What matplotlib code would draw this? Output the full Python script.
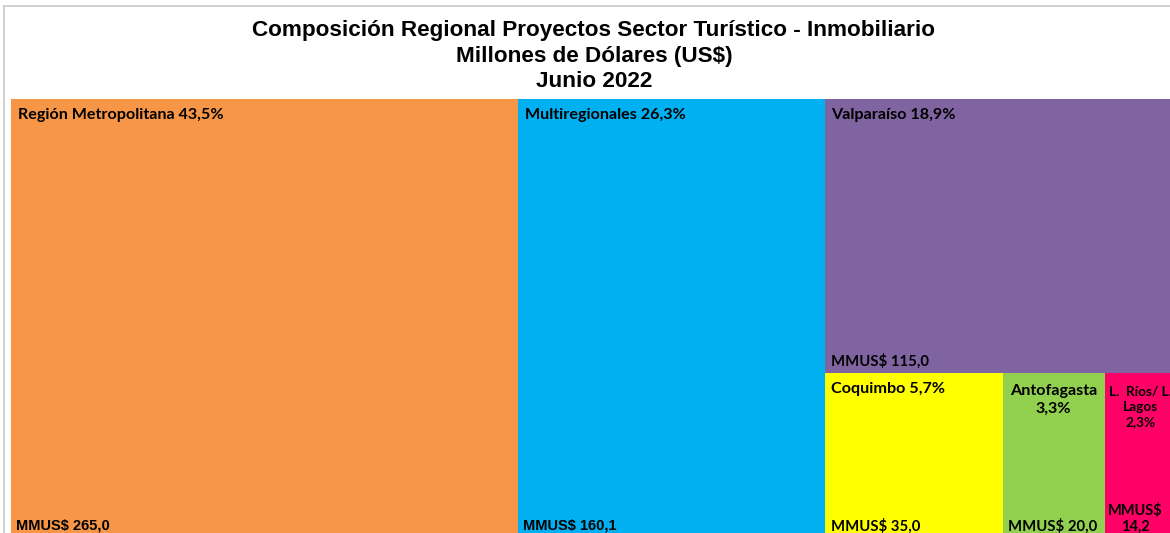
import matplotlib
matplotlib.use("Agg")
import matplotlib.pyplot as plt
from matplotlib.patches import Rectangle
from matplotlib.lines import Line2D

# ---- data ----
regions = ["Región Metropolitana", "Multiregionales", "Valparaíso",
           "Coquimbo", "Antofagasta", "L.  Ríos/ L.\nLagos"]
values = [265.0, 160.1, 115.0, 35.0, 20.0, 14.2]
percent_labels = ["43,5%", "26,3%", "18,9%", "5,7%", "3,3%", "2,3%"]
value_labels = ["265,0", "160,1", "115,0", "35,0", "20,0", "14,2"]
colors = ["#F79646", "#00B0F0", "#8064A2", "#FFFF00", "#92D050", "#FF0066"]

title_lines = ["Composición Regional Proyectos Sector Turístico - Inmobiliario",
               "Millones de Dólares (US$)",
               "Junio 2022"]

W, H = 1170, 533
fig = plt.figure(figsize=(W / 100, H / 100), dpi=100)
fig.patch.set_facecolor("white")

# light gray frame (left and top)
fig.add_artist(Line2D([4 / W, 4 / W], [0, 1 - 6 / H], color="#C8C8C8", lw=1.2,
                      transform=fig.transFigure))
fig.add_artist(Line2D([4 / W, 1], [1 - 6 / H, 1 - 6 / H], color="#C8C8C8", lw=1.2,
                      transform=fig.transFigure))

title_baselines = [36, 62, 87]
for line, yb in zip(title_lines, title_baselines):
    fig.text(594 / W, 1 - yb / H, line, ha="center", va="baseline",
             family="Liberation Sans", fontweight="bold", fontsize=16.2)

# treemap axes (extends slightly past the right and bottom edge, as in the reference)
ax = fig.add_axes([11 / W, -5 / H, 1166 / W, 439 / H])
total = sum(values)
ax.set_xlim(0, total)
ax.set_ylim(0, 1)
ax.axis("off")

# layout: first two items are full-height columns, the rest share the last column
rects = []
x = 0.0
for v in values[:2]:
    rects.append((x, 0.0, v, 1.0))
    x += v
rest = sum(values[2:])
colw = rest
h_top = values[2] / rest
rects.append((x, 1 - h_top, colw, h_top))
bx = x
for v in values[3:]:
    w = colw * v / sum(values[3:])
    rects.append((bx, 0.0, w, 1 - h_top))
    bx += w

font = "Lato"
top_fs = 11.6
for i, (rx, ry, rw, rh) in enumerate(rects):
    ax.add_patch(Rectangle((rx, ry), rw, rh, facecolor=colors[i], edgecolor="none"))
    name = regions[i]
    if i in (0, 1, 2, 3):
        ax.annotate(f"{name} {percent_labels[i]}", xy=(rx, ry + rh),
                    xytext=(5, -6.5), textcoords="offset points",
                    ha="left", va="top", family=font, fontweight="bold",
                    fontsize=top_fs, color="black")
        if i in (0, 1):
            ax.annotate(f"MMUS$ {value_labels[i]}", xy=(rx, ry),
                        xytext=(3.5, 6), textcoords="offset points",
                        ha="left", va="baseline", family="Liberation Sans",
                        fontweight="bold", fontsize=10.5, color="black")
        else:
            ax.annotate(f"MMUS$ {value_labels[i]}", xy=(rx, ry),
                        xytext=(4.5, 5.5), textcoords="offset points",
                        ha="left", va="baseline", family=font, fontweight="bold",
                        fontsize=10.7, color="black")
    elif i == 4:
        ax.annotate(f"{name}\n{percent_labels[i]}", xy=(rx + rw / 2, ry + rh),
                    xytext=(0, -8), textcoords="offset points",
                    ha="center", va="top", family=font, fontweight="bold",
                    fontsize=top_fs, color="black", linespacing=1.3)
        ax.annotate(f"MMUS$ {value_labels[i]}", xy=(rx, ry),
                    xytext=(3.5, 5.5), textcoords="offset points",
                    ha="left", va="baseline", family=font, fontweight="bold",
                    fontsize=10.7, color="black")
    else:
        ax.annotate(f"{name}\n{percent_labels[i]}", xy=(rx + rw / 2, ry + rh),
                    xytext=(0, -9), textcoords="offset points",
                    ha="center", va="top", family=font, fontweight="bold",
                    fontsize=9.8, color="black", linespacing=1.35,
                    annotation_clip=False)
        ax.annotate(f"MMUS$\n{value_labels[i]}", xy=(rx + rw / 2 - 3, ry),
                    xytext=(0, 5), textcoords="offset points",
                    ha="center", va="baseline", family=font, fontweight="bold",
                    fontsize=10.5, color="black", linespacing=1.15)

fig.savefig("out.png", dpi=100)
